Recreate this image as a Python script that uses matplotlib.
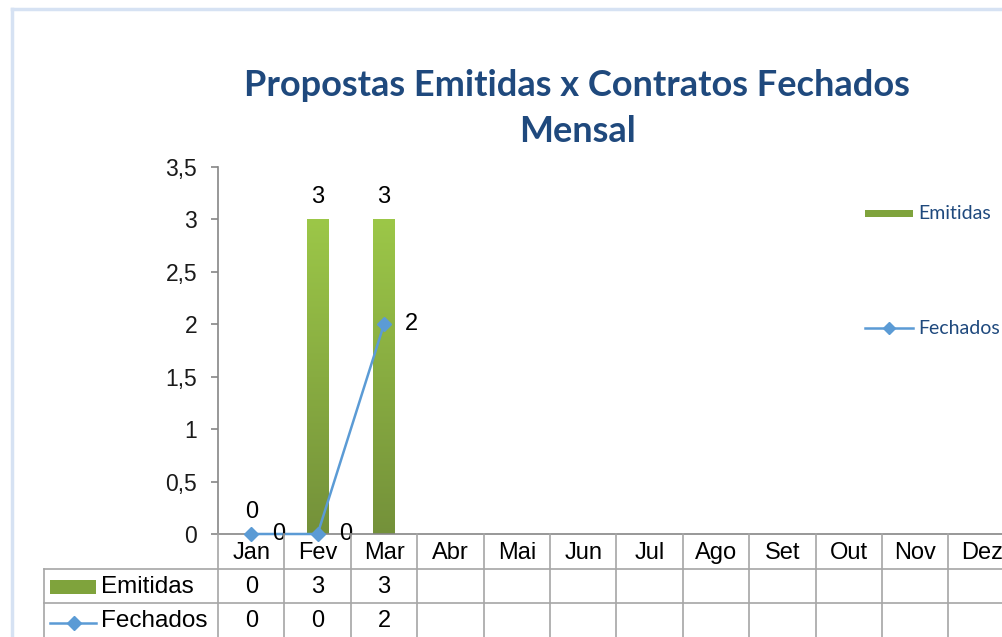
import numpy as np
import matplotlib
matplotlib.use("Agg")
import matplotlib.pyplot as plt
import matplotlib.transforms as mtransforms
from matplotlib.colors import LinearSegmentedColormap
from matplotlib.patches import Rectangle
from matplotlib.lines import Line2D

months = ["Jan", "Fev", "Mar", "Abr", "Mai", "Jun", "Jul", "Ago", "Set", "Out", "Nov", "Dez"]
emitidas = [0, 3, 3]
fechados = [0, 0, 2]
yticks = [0, 0.5, 1, 1.5, 2, 2.5, 3, 3.5]
title = "Propostas Emitidas x Contratos Fechados\nMensal"

W, H = 1002, 637
fig = plt.figure(figsize=(W / 100, H / 100), dpi=100)
plt.rcParams['font.family'] = ['Liberation Sans', 'DejaVu Sans']

def fx(x):
    return x / W

def fy(y):
    return 1 - y / H

# axes geometry in pixels
ax_left, ax_top, ax_bottom = 218, 167, 534
cat_w = 66.4
ax = fig.add_axes([fx(ax_left), fy(ax_bottom), 12 * cat_w / W, (ax_bottom - ax_top) / H])
ax.set_xlim(-0.5, 11.5)
ax.set_ylim(0, 3.5)
ax.patch.set_alpha(0)

axis_col = "#868686"
grid_col = "#A6A6A6"
for s in ["top", "right"]:
    ax.spines[s].set_visible(False)
ax.spines["left"].set_color(axis_col)
ax.spines["bottom"].set_color(axis_col)
ax.spines["left"].set_linewidth(1.2)
ax.spines["bottom"].set_linewidth(1.2)
ax.set_yticks(yticks)
ax.set_yticklabels([("%g" % v).replace(".", ",") for v in yticks], fontsize=16.5, color="#1a1a1a")
ax.tick_params(axis="y", length=5, width=1.2, color=axis_col, pad=10)
ax.set_xticks([])

green_top = "#9CC748"
green_bot = "#74913A"
cmap = LinearSegmentedColormap.from_list("g", [green_bot, green_top])

x_e = np.arange(len(emitidas))
bars = ax.bar(x_e, emitidas, width=0.32, color="none", edgecolor="none", zorder=2)
grad = np.linspace(0, 1, 256).reshape(-1, 1)
for b in bars:
    h = b.get_height()
    if h <= 0:
        continue
    x0 = b.get_x()
    im = ax.imshow(grad, cmap=cmap, origin="lower", aspect="auto",
                   extent=(x0, x0 + b.get_width(), 0, h), zorder=2)
    im.set_clip_path(b)
ax.set_xlim(-0.5, 11.5)
ax.set_ylim(0, 3.5)

line_col = "#5B9BD5"
x_f = np.arange(len(fechados))
ax.plot(x_f, fechados, color=line_col, lw=1.8, marker="D", markersize=7,
        markeredgecolor=line_col, zorder=4, clip_on=False)

# data labels
for xi, v in zip(x_e, emitidas):
    ax.annotate(str(v), (xi, v), xytext=(0, 8), textcoords="offset points",
                ha="center", va="bottom", fontsize=17, color="#000000")
for xi, v in zip(x_f, fechados):
    ax.annotate(str(v), (xi, v), xytext=(20, 0), textcoords="offset points",
                ha="center", va="center", fontsize=17, color="#000000", zorder=5)

# title
fig.text(fx(577), fy(85), "Propostas Emitidas x Contratos Fechados", ha="center", va="center",
         fontsize=26, fontweight="bold", color="#1F497D", family="Lato")
fig.text(fx(577), fy(131), "Mensal", ha="center", va="center",
         fontsize=26, fontweight="bold", color="#1F497D", family="Lato")

# right legend
fig.add_artist(Rectangle((fx(865), fy(217)), fx(48), 7 / H, transform=fig.transFigure,
                         facecolor="#7FA33C", edgecolor="none"))
fig.text(fx(918), fy(213), "Emitidas", ha="left", va="center", fontsize=14,
         color="#1F497D", family="Lato")
fig.add_artist(Line2D([fx(865), fx(913)], [fy(328), fy(328)], transform=fig.transFigure,
                      color=line_col, lw=1.8))
fig.add_artist(Line2D([fx(889)], [fy(328)], transform=fig.transFigure, color=line_col,
                      marker="D", markersize=6, lw=0))
fig.text(fx(918), fy(328), "Fechados", ha="left", va="center", fontsize=14,
         color="#1F497D", family="Lato")

# data table
bt = mtransforms.blended_transform_factory(ax.transData, fig.transFigure)
for i in range(len(months) + 1):
    fig.add_artist(Line2D([i - 0.5, i - 0.5], [fy(534), fy(640)], transform=bt,
                          color=grid_col, lw=1.2))
for yy in [569, 603]:
    fig.add_artist(Line2D([fx(44), fx(1010)], [fy(yy), fy(yy)], transform=fig.transFigure,
                          color=grid_col, lw=1.2))
fig.add_artist(Line2D([fx(44), fx(44)], [fy(569), fy(640)], transform=fig.transFigure,
                      color=grid_col, lw=1.2))
for i, m in enumerate(months):
    fig.text(i, fy(553), m, transform=bt, ha="center", va="center", fontsize=17, color="#000000")
for i, v in enumerate(emitidas):
    fig.text(i, fy(587), str(v), transform=bt, ha="center", va="center", fontsize=17, color="#000000")
for i, v in enumerate(fechados):
    fig.text(i, fy(621), str(v), transform=bt, ha="center", va="center", fontsize=17, color="#000000")

fig.add_artist(Rectangle((fx(50), fy(594)), fx(46), 14 / H, transform=fig.transFigure,
                         facecolor="#7FA33C", edgecolor="none"))
fig.text(fx(101), fy(587), "Emitidas", ha="left", va="center", fontsize=17.5, color="#000000")
fig.add_artist(Line2D([fx(50), fx(96)], [fy(623), fy(623)], transform=fig.transFigure,
                      color=line_col, lw=1.8))
fig.add_artist(Line2D([fx(74)], [fy(623)], transform=fig.transFigure, color=line_col,
                      marker="D", markersize=7, lw=0))
fig.text(fx(101), fy(621), "Fechados", ha="left", va="center", fontsize=17.5, color="#000000")

# outer chart frame
fig.add_artist(Line2D([fx(12), fx(12)], [fy(9), fy(640)], transform=fig.transFigure,
                      color="#D6E2F3", lw=2.5))
fig.add_artist(Line2D([fx(12), fx(1010)], [fy(9), fy(9)], transform=fig.transFigure,
                      color="#D6E2F3", lw=2.5))

fig.savefig("out.png", dpi=100)
